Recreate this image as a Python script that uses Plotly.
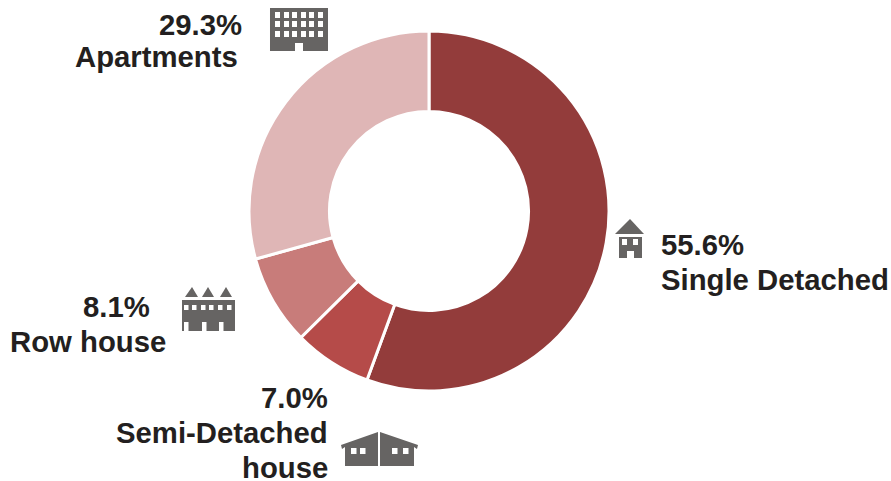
import plotly.graph_objects as go

W, H = 891, 481
categories = ["Single Detached", "Semi-Detached house", "Row house", "Apartments"]
shares = [55.6, 7.0, 8.1, 29.3]
colors = ["#933C3B", "#B54B49", "#C87C7A", "#DFB6B6"]
ICON = "#666463"
FONT = "Liberation Sans"
SIZE = 29.3

def X(p): return p / W
def Y(p): return 1 - p / H

fig = go.Figure(go.Pie(
    labels=categories, values=shares, sort=False, direction="clockwise", rotation=0,
    hole=0.553, textinfo="none", hoverinfo="label+percent",
    marker=dict(colors=colors, line=dict(color="white", width=3)),
    domain=dict(x=[X(249), X(609)], y=[Y(391), Y(31)]), showlegend=False,
))

# (text line, x anchor px, y centre px, anchor)
text_lines = [
    (f"{shares[3]:.1f}%", 242, 24.5, "right"), (categories[3], 237.5, 56.5, "right"),
    (f"{shares[0]:.1f}%", 661, 244.5, "left"), (categories[0], 661, 279.5, "left"),
    (f"{shares[2]:.1f}%", 149.5, 306.5, "right"), (categories[2], 165.5, 341.5, "right"),
    (f"{shares[1]:.1f}%", 327.5, 397.5, "right"), ("Semi-Detached", 327.5, 432.5, "right"),
    ("house", 327.5, 467.5, "right"),
]
for t, x, y, a in text_lines:
    fig.add_annotation(text=f"<b>{t}</b>", x=X(x), y=Y(y), xref="paper", yref="paper",
                       xanchor=a, yanchor="middle", showarrow=False, borderpad=0, borderwidth=0,
                       font=dict(family=FONT, size=SIZE, color="#231F20"))

def poly(points, color=ICON):
    d = "M " + " L ".join(f"{X(x):.5f},{Y(y):.5f}" for x, y in points) + " Z"
    fig.add_shape(type="path", path=d, xref="paper", yref="paper",
                  fillcolor=color, line=dict(width=0), layer="above")

def rect(x0, y0, x1, y1, color=ICON):
    poly([(x0, y0), (x1, y0), (x1, y1), (x0, y1)], color)

# Apartment block icon
rect(270, 8, 328, 51)
for wy0, wy1 in [(12, 18), (21, 27), (31, 37)]:
    for wx0 in [275, 284, 292, 301, 309, 318]:
        rect(wx0, wy0, wx0 + 5, wy1, "white")
rect(295, 43, 303, 51, "white")

# Single detached icon
poly([(630, 219), (644, 234), (615, 234)])
rect(619, 237, 642, 258)
rect(622, 239, 627, 245, "white")
rect(633, 239, 638, 245, "white")
rect(627, 251, 634, 258, "white")

# Row house icon
for a, l, r in [(192, 185, 198), (208, 202, 214), (226, 220, 232)]:
    poly([(a, 287), (r, 297), (l, 297)])
rect(182, 300, 235, 331)
for wx0 in [184, 192, 201, 209, 218, 227]:
    rect(wx0, 305, wx0 + 4.5, 310, "white")
for dx0 in [184, 202, 219]:
    rect(dx0, 322, dx0 + 4.5, 331, "white")

# Semi-detached icon
poly([(378, 432), (378, 466), (345, 466), (345, 447), (342, 449), (341, 445)])
poly([(380, 432), (418, 445), (417, 449), (414, 447), (414, 466), (380, 466)])
for wx0 in [351, 360, 392, 403]:
    rect(wx0, 448, wx0 + 5.5, 454, "white")

fig.update_layout(width=W, height=H, margin=dict(l=0, r=0, t=0, b=0),
                  paper_bgcolor="white", plot_bgcolor="white")
fig.write_html("out.html", config=dict(displayModeBar=False),
               post_script="document.body.style.margin='0';document.documentElement.style.overflow='hidden';")
